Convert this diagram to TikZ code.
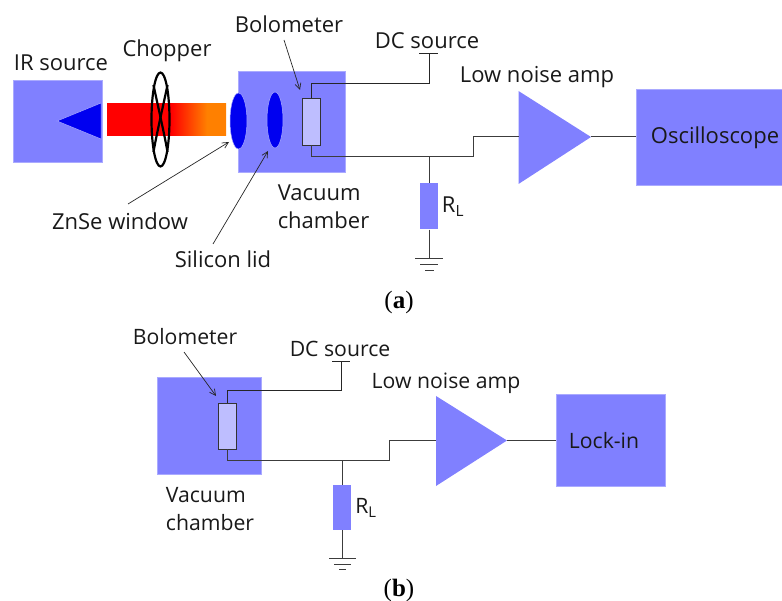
\documentclass[tikz,border=0pt]{standalone}
\usepackage{fontspec}
\setmainfont{Open Sans}
\newfontfamily\capfont{Liberation Serif}
\usetikzlibrary{arrows.meta,shapes.geometric}
\definecolor{panel}{RGB}{128,128,255}
\definecolor{edgepanel}{RGB}{170,170,255}
\definecolor{lenscol}{RGB}{0,0,240}
\definecolor{bolo}{RGB}{190,190,255}
\definecolor{wirecol}{RGB}{60,60,60}
\definecolor{beamorange}{RGB}{255,128,0}
\pgfdeclarehorizontalshading{beamshade}{100bp}{color(0bp)=(red);color(52bp)=(red);color(67bp)=(beamorange);color(100bp)=(beamorange)}
\tikzset{
  box/.style={rectangle,fill=panel,draw=edgepanel,line width=0.5pt,inner sep=0pt},
  lens/.style={ellipse,fill=lenscol,draw=edgepanel,line width=0.5pt,inner sep=0pt},
  bolobox/.style={rectangle,fill=bolo,draw=black!80,line width=0.9pt,inner sep=0pt},
  load/.style={rectangle,fill=panel,inner sep=0pt,minimum width=18pt,minimum height=46pt},
  lbl/.style={inner sep=0pt,font=\fontsize{22}{28}\selectfont,align=left,text=black!90},
  lblb/.style={inner sep=0pt,font=\fontsize{21.2}{28}\selectfont,align=left,text=black!90},
  wire/.style={draw=wirecol,line width=1pt},
  chopline/.style={draw=black,line width=2.2pt},
  pointer/.style={draw=black!85,line width=0.7pt,-{Straight Barb[length=6pt,width=6pt]}},
  capt/.style={inner sep=0pt,font=\capfont\fontsize{25}{28}\selectfont}
}
\begin{document}
\begin{tikzpicture}[x=1pt,y=-1pt]
\useasboundingbox (0,0) rectangle (782,601);
% ---------- (a) ----------
\node[box,minimum width=89pt,minimum height=82pt] (irsrc) at (57.5,121) {};
\fill[lenscol,draw=edgepanel,line width=0.5pt] (57,121) coordinate (irtip) -- (101,103) -- (101,139) -- cycle;
\shade[shading=beamshade] (107,104) rectangle (226,136);
\draw[chopline] (160.5,119.5) ellipse [x radius=9,y radius=47];
\draw[chopline] (153.5,85) .. controls (157,102) and (164,132) .. (167.5,152);
\draw[chopline] (167.5,85) .. controls (164,102) and (157,132) .. (153.5,152);
\node[box,minimum width=107pt,minimum height=101pt] (chamA) at (291.5,121.5) {};
\node[lens,minimum width=17pt,minimum height=56pt] (win) at (238.5,121) {};
\node[lens,minimum width=16pt,minimum height=56pt] (lid) at (275,120) {};
\node[bolobox,minimum width=18pt,minimum height=47pt] (boloA) at (311,121.5) {};
\node[box,minimum width=146pt,minimum height=96pt] (scope) at (709,137) {};
\node[lbl] at (715,137.5) (scopet) {Oscilloscope};
\fill[panel] (518.5,91) coordinate (ampAtop) -- (518.5,184) -- (591,137) coordinate (ampAout) -- cycle;
\coordinate (ampAin) at (518.5,137);
\node[load] (rlA) at (429,206.5) {};
\coordinate (dcA) at (429,54);
\coordinate (gndA) at (429,259);
\coordinate (jA) at (429,157);
\coordinate (stepA) at (473,157);
\draw[wire,draw=black!85] (boloA.north) |- (429,84) -- (dcA);
\draw[wire,draw=black!85] (419,54) -- (438,54);
\draw[wire] (boloA.south) |- (stepA) |- (ampAin);
\draw[wire] (jA) -- (rlA.north);
\draw[wire] (rlA.south) -- (gndA);
\draw[wire] (415,259) -- (443,259);
\draw[wire,line width=.8pt] (420,264.5) -- (438,264.5);
\draw[wire,line width=.8pt] (425,270) -- (434,270);
\draw[wire] (ampAout) -- (scope.west);
\node[lbl] (irlab) at (61,63) {IR source};
\node[lbl] (choplab) at (167,51) {Chopper};
\node[lbl] (bololabA) at (289,24) {Bolometer};
\node[lbl] (dclabA) at (427,41) {DC source};
\node[lbl] (amplabA) at (537,77) {Low noise amp};
\node[lbl] (vacA) at (323.5,207) {Vacuum\\chamber};
\node[lbl] (znse) at (120,221) {ZnSe window};
\node[lbl] (silicon) at (223,259) {Silicon lid};
\node[lbl] (rlatA) at (453,207) {R\textsubscript{L}};
\coordinate (pA1) at (284,40);
\coordinate (pA2) at (128,204);
\coordinate (pA3) at (213,244);
\draw[pointer] (pA1) -- (300,90);
\draw[pointer] (pA2) -- (229,142);
\draw[pointer] (pA3) -- (268,151);
\node[capt] (capA) at (399,302) {(\textbf{a})};
% ---------- (b) ----------
\node[box,minimum width=104pt,minimum height=97pt] (chamB) at (209,425.5) {};
\node[bolobox,minimum width=18pt,minimum height=46pt] (boloB) at (227.5,426) {};
\node[box,minimum width=109pt,minimum height=92pt] (lock) at (610.5,440.5) {};
\node[lblb] (lockt) at (604,441) {Lock-in};
\fill[panel] (436,396) -- (436,486) -- (507,440.5) coordinate (ampBout) -- cycle;
\coordinate (ampBin) at (436,441);
\node[load,minimum height=45pt] (rlB) at (342,507.5) {};
\coordinate (dcB) at (341,362);
\coordinate (gndB) at (342,558);
\coordinate (jB) at (342,460.5);
\coordinate (stepB) at (389,460.5);
\draw[wire,draw=black!85] (boloB.north) |- (341,390.5) -- (dcB);
\draw[wire,draw=black!85] (332,362) -- (350,362);
\draw[wire] (boloB.south) |- (stepB) |- (ampBin);
\draw[wire] (jB) -- (rlB.north);
\draw[wire] (rlB.south) -- (gndB);
\draw[wire] (329,558) -- (356,558);
\draw[wire,line width=.8pt] (334,564) -- (351,564);
\draw[wire,line width=.8pt] (339,569) -- (346,569);
\draw[wire] (ampBout) -- (lock.west);
\node[lblb] (bololabB) at (185,337) {Bolometer};
\node[lblb] (dclabB) at (340,349) {DC source};
\node[lblb] (amplabB) at (446,383) {Low noise amp};
\node[lblb] (vacB) at (210,509) {Vacuum\\chamber};
\node[lblb] (rlatB) at (366,508) {R\textsubscript{L}};
\coordinate (pB1) at (184,352);
\draw[pointer] (pB1) -- (216,396);
\node[capt] (capB) at (399,590) {(\textbf{b})};
\end{tikzpicture}
\end{document}
